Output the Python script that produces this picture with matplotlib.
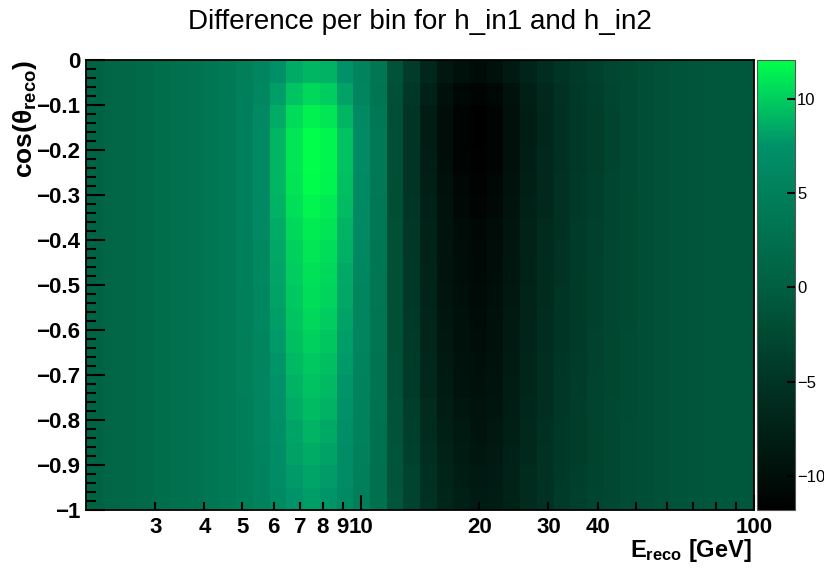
import numpy as np
import matplotlib
matplotlib.use("Agg")
import matplotlib.pyplot as plt
from matplotlib.colors import LinearSegmentedColormap

plt.rcParams["font.family"] = ["Liberation Sans", "DejaVu Sans"]
plt.rcParams["mathtext.fontset"] = "custom"
plt.rcParams["mathtext.rm"] = "Liberation Sans:bold"
plt.rcParams["mathtext.it"] = "Liberation Sans:bold"
plt.rcParams["mathtext.bf"] = "Liberation Sans:bold"

# histogram binning: 40 log bins in E (2..100 GeV), 20 bins in cos(theta) (0..-1)
e_min, e_max, n_e = 2, 100, 40
cos_top, cos_bottom, n_cos = 0, -1, 20

# difference per bin, rows from cos=0 (top) down to cos=-1 (bottom)
diff = [
    [0.8, 1.0, 1.3, 1.7, 2.1, 2.5, 2.9, 3.4, 4.0, 4.8, 5.9, 7.3, 8.6, 9.0, 8.8, 7.4, 5.6, 3.4, -1.5, -4.0, -6.7, -8.8, -9.8, -10.3, -9.8, -8.6, -7.1, -5.9, -4.9, -4.1, -3.5, -2.9, -2.4, -2.0, -1.6, -1.3, -1.1, -0.9, -0.8, -0.8],
    [0.8, 1.0, 1.3, 1.7, 2.1, 2.5, 2.9, 3.4, 4.0, 4.9, 6.0, 8.0, 9.6, 10.4, 10.0, 8.2, 5.8, 3.3, -1.8, -4.7, -7.6, -9.7, -10.8, -11.3, -10.8, -9.5, -7.8, -6.5, -5.4, -4.4, -3.7, -3.0, -2.5, -2.0, -1.6, -1.3, -1.1, -0.9, -0.8, -0.8],
    [0.8, 1.0, 1.3, 1.7, 2.1, 2.5, 2.9, 3.4, 4.0, 5.0, 6.2, 8.6, 10.5, 11.4, 11.0, 9.0, 6.3, 3.8, -2.0, -5.0, -8.0, -10.2, -11.3, -11.8, -11.2, -9.8, -8.0, -6.7, -5.5, -4.5, -3.8, -3.1, -2.5, -2.0, -1.6, -1.3, -1.1, -0.9, -0.8, -0.8],
    [0.8, 1.0, 1.3, 1.7, 2.1, 2.5, 2.9, 3.4, 4.0, 5.0, 6.4, 9.0, 11.0, 12.0, 11.6, 9.5, 6.6, 4.0, -2.0, -5.0, -8.0, -10.2, -11.3, -11.8, -11.2, -9.8, -8.0, -6.7, -5.5, -4.5, -3.8, -3.1, -2.5, -2.0, -1.6, -1.3, -1.1, -0.9, -0.8, -0.8],
    [0.8, 1.0, 1.3, 1.7, 2.1, 2.5, 2.9, 3.4, 4.0, 5.0, 6.4, 9.0, 11.0, 12.0, 11.6, 9.5, 6.6, 4.0, -2.0, -5.0, -7.9, -10.1, -11.2, -11.7, -11.1, -9.7, -7.9, -6.6, -5.5, -4.5, -3.8, -3.1, -2.5, -2.0, -1.6, -1.3, -1.1, -0.9, -0.8, -0.8],
    [0.8, 1.0, 1.3, 1.7, 2.1, 2.5, 2.9, 3.4, 4.0, 5.0, 6.4, 9.0, 10.9, 11.9, 11.5, 9.4, 6.5, 3.9, -1.9, -4.9, -7.7, -9.9, -10.9, -11.4, -10.8, -9.5, -7.8, -6.5, -5.4, -4.4, -3.7, -3.0, -2.5, -2.0, -1.6, -1.3, -1.1, -0.9, -0.8, -0.8],
    [0.8, 1.0, 1.3, 1.7, 2.1, 2.5, 2.9, 3.4, 4.0, 5.0, 6.3, 8.8, 10.7, 11.6, 11.2, 9.2, 6.4, 3.8, -1.9, -4.8, -7.6, -9.6, -10.6, -11.1, -10.6, -9.3, -7.6, -6.4, -5.3, -4.4, -3.7, -3.0, -2.4, -2.0, -1.6, -1.3, -1.1, -0.9, -0.8, -0.8],
    [0.8, 1.0, 1.3, 1.7, 2.1, 2.5, 2.9, 3.4, 4.0, 5.0, 6.2, 8.6, 10.4, 11.3, 10.9, 8.9, 6.2, 3.7, -1.8, -4.7, -7.4, -9.4, -10.4, -10.9, -10.4, -9.1, -7.5, -6.3, -5.2, -4.3, -3.6, -3.0, -2.4, -2.0, -1.6, -1.3, -1.1, -0.9, -0.8, -0.8],
    [0.8, 1.0, 1.3, 1.7, 2.1, 2.5, 2.9, 3.4, 4.0, 4.9, 6.1, 8.4, 10.1, 11.0, 10.6, 8.7, 6.1, 3.6, -1.8, -4.6, -7.3, -9.3, -10.2, -10.7, -10.2, -9.0, -7.4, -6.2, -5.1, -4.3, -3.6, -2.9, -2.4, -2.0, -1.6, -1.3, -1.1, -0.9, -0.8, -0.8],
    [0.8, 1.0, 1.3, 1.7, 2.1, 2.5, 2.9, 3.4, 4.0, 4.9, 6.1, 8.3, 10.0, 10.8, 10.4, 8.5, 6.0, 3.5, -1.8, -4.5, -7.2, -9.2, -10.1, -10.6, -10.1, -8.9, -7.3, -6.1, -5.1, -4.2, -3.5, -2.9, -2.4, -2.0, -1.6, -1.3, -1.1, -0.9, -0.8, -0.8],
    [0.8, 1.0, 1.3, 1.7, 2.1, 2.5, 2.9, 3.4, 4.0, 4.9, 6.0, 8.2, 9.8, 10.6, 10.2, 8.4, 5.9, 3.4, -1.7, -4.5, -7.1, -9.1, -10.0, -10.5, -10.0, -8.8, -7.2, -6.1, -5.0, -4.2, -3.5, -2.9, -2.4, -2.0, -1.6, -1.3, -1.1, -0.9, -0.8, -0.8],
    [0.8, 1.0, 1.3, 1.7, 2.1, 2.5, 2.9, 3.4, 4.0, 4.9, 6.0, 8.0, 9.6, 10.4, 10.0, 8.2, 5.8, 3.3, -1.7, -4.4, -7.0, -9.0, -9.9, -10.4, -9.9, -8.7, -7.2, -6.0, -5.0, -4.2, -3.5, -2.9, -2.4, -2.0, -1.6, -1.3, -1.1, -0.9, -0.8, -0.8],
    [0.8, 1.0, 1.3, 1.7, 2.1, 2.5, 2.9, 3.4, 4.0, 4.8, 5.9, 7.8, 9.4, 10.1, 9.7, 8.0, 5.7, 3.2, -1.7, -4.3, -6.9, -8.8, -9.7, -10.2, -9.7, -8.5, -7.1, -5.9, -4.9, -4.1, -3.4, -2.8, -2.3, -2.0, -1.6, -1.3, -1.1, -0.9, -0.8, -0.8],
    [0.8, 1.0, 1.3, 1.7, 2.1, 2.5, 2.9, 3.4, 4.0, 4.8, 5.8, 7.6, 9.1, 9.8, 9.4, 7.8, 5.6, 3.1, -1.6, -4.2, -6.7, -8.6, -9.5, -10.0, -9.6, -8.4, -7.0, -5.8, -4.8, -4.0, -3.4, -2.8, -2.3, -2.0, -1.6, -1.3, -1.1, -0.9, -0.8, -0.8],
    [0.8, 1.0, 1.3, 1.7, 2.1, 2.5, 2.9, 3.4, 4.0, 4.8, 5.8, 7.4, 8.8, 9.5, 9.1, 7.6, 5.5, 3.0, -1.6, -4.1, -6.6, -8.4, -9.3, -9.8, -9.4, -8.2, -6.9, -5.7, -4.7, -4.0, -3.3, -2.8, -2.3, -2.0, -1.6, -1.3, -1.1, -0.9, -0.8, -0.8],
    [0.8, 1.0, 1.3, 1.7, 2.1, 2.5, 2.9, 3.4, 4.0, 4.7, 5.7, 7.2, 8.6, 9.2, 8.8, 7.4, 5.4, 2.9, -1.5, -3.9, -6.3, -8.1, -9.0, -9.5, -9.1, -8.0, -6.7, -5.6, -4.6, -3.9, -3.3, -2.7, -2.3, -2.0, -1.6, -1.3, -1.1, -0.9, -0.8, -0.8],
    [0.8, 1.0, 1.3, 1.7, 2.1, 2.5, 2.9, 3.4, 4.0, 4.7, 5.7, 7.0, 8.3, 8.9, 8.5, 7.1, 5.2, 2.8, -1.4, -3.7, -6.1, -7.8, -8.7, -9.2, -8.8, -7.8, -6.6, -5.5, -4.5, -3.8, -3.2, -2.7, -2.2, -2.0, -1.6, -1.3, -1.1, -0.9, -0.8, -0.8],
    [0.8, 1.0, 1.3, 1.7, 2.1, 2.5, 2.9, 3.4, 4.0, 4.7, 5.6, 6.9, 8.1, 8.6, 8.2, 6.9, 5.1, 2.7, -1.3, -3.5, -5.8, -7.5, -8.4, -8.9, -8.6, -7.6, -6.4, -5.4, -4.5, -3.8, -3.2, -2.7, -2.2, -2.0, -1.6, -1.3, -1.1, -0.9, -0.8, -0.8],
    [0.8, 1.0, 1.3, 1.7, 2.1, 2.5, 2.9, 3.4, 4.0, 4.6, 5.5, 6.7, 7.8, 8.3, 7.9, 6.7, 5.0, 2.6, -1.2, -3.3, -5.5, -7.2, -8.1, -8.6, -8.3, -7.4, -6.3, -5.3, -4.4, -3.7, -3.1, -2.6, -2.2, -2.0, -1.6, -1.3, -1.1, -0.9, -0.8, -0.8],
    [0.8, 1.0, 1.3, 1.7, 2.1, 2.5, 2.9, 3.4, 4.0, 4.6, 5.5, 6.5, 7.5, 8.0, 7.6, 6.4, 4.8, 2.5, -1.1, -3.1, -5.2, -6.9, -7.8, -8.3, -8.1, -7.3, -6.2, -5.2, -4.3, -3.6, -3.0, -2.6, -2.2, -2.0, -1.6, -1.3, -1.1, -0.9, -0.8, -0.8],
]

z_min, z_max = -11.8, 12.05

# palette: value -> colour
palette_values = [-11.8, -10, -5, 0, 5, 7.5, 10, 12.05]
palette_colors = ["#000000", "#000f0a", "#003424", "#005f40", "#00805a", "#009169", "#00cd5f", "#00ff4b"]

x_major = [10, 100]
x_major_labels = ["10", "100"]
x_minor = [3, 4, 5, 6, 7, 8, 9, 20, 30, 40, 50, 60, 70, 80, 90]
x_minor_labels = ["3", "4", "5", "6", "7", "8", "9", "20", "30", "40", "", "", "", "", ""]

y_major = [-1, -0.9, -0.8, -0.7, -0.6, -0.5, -0.4, -0.3, -0.2, -0.1, 0]
y_major_labels = ["\u22121", "\u22120.9", "\u22120.8", "\u22120.7", "\u22120.6", "\u22120.5",
                  "\u22120.4", "\u22120.3", "\u22120.2", "\u22120.1", "0"]

cb_ticks = [-10, -5, 0, 5, 10]
cb_labels = ["\u221210", "\u22125", "0", "5", "10"]

pos = [(v - z_min) / (z_max - z_min) for v in palette_values]
cmap = LinearSegmentedColormap.from_list("diffgreen", list(zip(pos, palette_colors)), N=256)

fig = plt.figure(figsize=(8.24, 5.70), dpi=100)
ax = fig.add_axes([86 / 824, 60 / 570, 668 / 824, 450 / 570])
cax = fig.add_axes([757 / 824, 60 / 570, 38 / 824, 450 / 570])

x_edges = np.geomspace(e_min, e_max, n_e + 1)
y_edges = np.linspace(cos_top, cos_bottom, n_cos + 1)
mesh = ax.pcolormesh(x_edges, y_edges, np.array(diff), cmap=cmap,
                     vmin=z_min, vmax=z_max, shading="flat")

ax.set_xscale("log")
ax.set_xlim(e_min, e_max)
ax.set_ylim(cos_bottom, cos_top)

ax.set_xticks(x_major, x_major_labels, fontsize=16, fontweight="bold")
ax.set_xticks(x_minor, x_minor_labels, minor=True, fontsize=16, fontweight="bold")
ax.set_yticks(y_major, y_major_labels, fontsize=16, fontweight="bold")
ax.set_yticks(np.arange(-1, 0.001, 0.02), minor=True)

ax.tick_params(axis="both", which="both", direction="in", top=False, right=False,
               color="black", width=1.5)
ax.tick_params(axis="x", which="major", length=11, pad=5)
ax.tick_params(axis="x", which="minor", length=6, pad=5)
ax.tick_params(axis="y", which="major", length=14, pad=4)
ax.tick_params(axis="y", which="minor", length=7)
for sp in ax.spines.values():
    sp.set_linewidth(1.3)

cbar = fig.colorbar(mesh, cax=cax)
cbar.set_ticks(cb_ticks, labels=cb_labels)
cbar.outline.set_linewidth(0.8)
cbar.outline.set_edgecolor("#555555")
cax.tick_params(direction="in", length=6, width=1.5, labelsize=12, pad=1.5)
cax.yaxis.set_minor_locator(matplotlib.ticker.NullLocator())

fig.text(0.51, 0.961, "Difference per bin for h_in1 and h_in2", ha="center", va="center",
         fontsize=20)
fig.text(752 / 824, 1 - 550 / 570, "E$_{reco}$ [GeV]", ha="right", va="center",
         fontsize=17, fontweight="bold")
fig.text(25 / 824, 1 - 60 / 570, "cos(\u03b8$_{reco}$)", ha="center", va="top",
         rotation=90, fontsize=19, fontweight="bold")

fig.savefig("out.png", dpi=100)
